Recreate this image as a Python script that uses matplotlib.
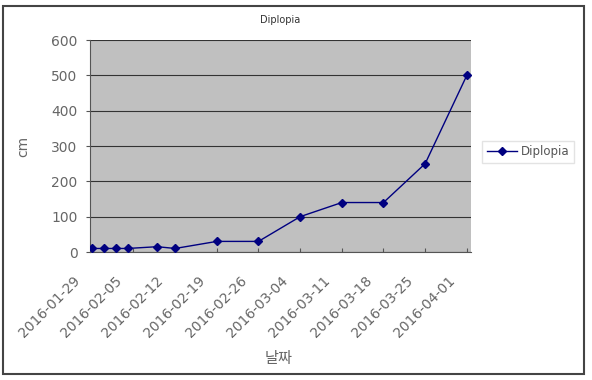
import datetime
import matplotlib
matplotlib.use('Agg')
import matplotlib.pyplot as plt
import matplotlib.dates as mdates
import matplotlib.transforms as mtransforms
from matplotlib.patches import Rectangle

plt.rcParams['font.family'] = ['DejaVu Sans', 'Noto Sans CJK KR']

dates = ['2016-01-29', '2016-01-31', '2016-02-02', '2016-02-04', '2016-02-09',
         '2016-02-12', '2016-02-19', '2016-02-26', '2016-03-04', '2016-03-11',
         '2016-03-18', '2016-03-25', '2016-04-01']
values = [10, 10, 10, 10, 15, 10, 30, 30, 100, 140, 140, 250, 500]
tick_dates = ['2016-01-29', '2016-02-05', '2016-02-12', '2016-02-19', '2016-02-26',
              '2016-03-04', '2016-03-11', '2016-03-18', '2016-03-25', '2016-04-01']
y_ticks = [0, 100, 200, 300, 400, 500, 600]

x = [datetime.datetime.strptime(d, '%Y-%m-%d') for d in dates]
xt = [datetime.datetime.strptime(d, '%Y-%m-%d') for d in tick_dates]

W, H = 592, 380
fig = plt.figure(figsize=(W / 100, H / 100), dpi=100)

# outer chart frame
fig.patches.append(Rectangle((3 / W, 6 / H), 581 / W, 368 / H, transform=fig.transFigure,
                             fill=False, edgecolor='#444444', linewidth=1.5))

ax = fig.add_axes([90 / W, (H - 252) / H, 381 / W, 212 / H])
ax.set_facecolor('#c0c0c0')
ax.plot(x, values, color='#000080', linewidth=1, marker='D', markersize=4,
        label='Diplopia', zorder=3)

ax.set_ylim(0, 600)
ax.set_yticks(y_ticks)
ax.set_xlim(xt[0] - datetime.timedelta(days=0.3), xt[-1] + datetime.timedelta(days=0.7))
ax.set_xticks(xt)
ax.xaxis.set_major_formatter(mdates.DateFormatter('%Y-%m-%d'))
ax.grid(axis='y', color='#333333', linewidth=0.8)
ax.set_axisbelow(True)

for s in ['top', 'right']:
    ax.spines[s].set_visible(False)
for s in ['left', 'bottom']:
    ax.spines[s].set_color('#555555')

ax.tick_params(axis='y', direction='out', length=3, colors='#555555', labelsize=10,
               labelcolor='#666666', pad=6)
ax.tick_params(axis='x', direction='in', length=3, colors='#555555', labelsize=10,
               labelcolor='#666666', pad=3)
shift = mtransforms.ScaledTranslation(-0.19, -0.17, fig.dpi_scale_trans)
for lbl in ax.get_xticklabels():
    lbl.set_rotation(45)
    lbl.set_ha('right')
    lbl.set_rotation_mode('anchor')
    lbl.set_transform(lbl.get_transform() + shift)

ax.set_title('Diplopia', fontsize=7, color='#333333', pad=12)
ax.set_ylabel('cm', fontsize=10, color='#666666', labelpad=15)
ax.text(0.47, (H - 358) / H, '날짜', transform=fig.transFigure, ha='center', va='center',
        fontsize=11, color='#666666')

leg = fig.legend(loc='center', bbox_to_anchor=(528 / W, (H - 152) / H), fontsize=8.5,
                 frameon=True, fancybox=False, edgecolor='#dddddd', handlelength=2.6,
                 borderpad=0.35, handletextpad=0.3)
for t in leg.get_texts():
    t.set_color('#555555')

fig.savefig('out.png', dpi=100)
